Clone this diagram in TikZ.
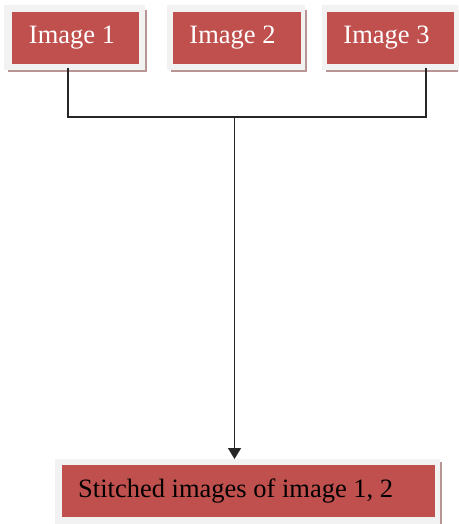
\documentclass[tikz,border=0pt]{standalone}
\usepackage{fontspec}
\setmainfont{Liberation Serif}
\usetikzlibrary{arrows.meta}
\definecolor{boxred}{HTML}{C0504D}
\definecolor{framegray}{HTML}{F2F2F2}
\definecolor{shadowc}{HTML}{B89595}
\tikzset{
  frame/.style={fill=framegray,draw=none},
  shadowbox/.style={fill=shadowc,draw=none},
  redbox/.style={fill=boxred,draw=none,inner sep=0pt,minimum height=52pt},
  boxtext/.style={inner sep=0pt,font=\fontsize{26.5}{30}\selectfont},
  conn/.style={draw=black!85,line width=1.3pt}
}
\begin{document}
\begin{tikzpicture}[x=1pt,y=-1pt]
\useasboundingbox (0,0) rectangle (458,524);
\clip (0,0) rectangle (458,524);
% Image 1
\fill[shadowbox] (8,10) rectangle (147,72);
\fill[frame] (4,5) rectangle (145,70);
\node[redbox,minimum width=127pt] (img1) at (75.5,38) {};
\node[boxtext,text=white] (t1) at (72,38) {Image 1};
% Image 2
\fill[shadowbox] (171,10) rectangle (307,72);
\fill[frame] (167,5) rectangle (305,70);
\node[redbox,minimum width=128pt] (img2) at (237,38) {};
\node[boxtext,text=white] (t2) at (232.5,38) {Image 2};
% Image 3
\fill[shadowbox] (326,10) rectangle (462,72);
\fill[frame] (322,5) rectangle (459,70);
\node[redbox,minimum width=127pt] (img3) at (390.5,38) {};
\node[boxtext,text=white] (t3) at (386.5,38) {Image 3};
% Bottom
\fill[shadowbox] (59,462) rectangle (442,524);
\fill[frame] (55,459) rectangle (440,524);
\node[redbox,minimum width=373pt] (out) at (248.5,491) {};
\node[boxtext,text=black,anchor=west] (tout) at (78,491) {Stitched images of image 1, 2};
% connectors
\coordinate (a1) at (68,68);
\coordinate (a3) at (426,68);
\coordinate (j1) at (68,117);
\coordinate (j3) at (426,117);
\coordinate (jm) at (234.5,117);
\coordinate (tip) at (234.5,459);
\draw[conn] (a1) -- (j1) -- (j3) -- (a3);
\draw[conn,-{Triangle[length=11pt,width=13pt]}] (jm) -- (tip);
\end{tikzpicture}
\end{document}
